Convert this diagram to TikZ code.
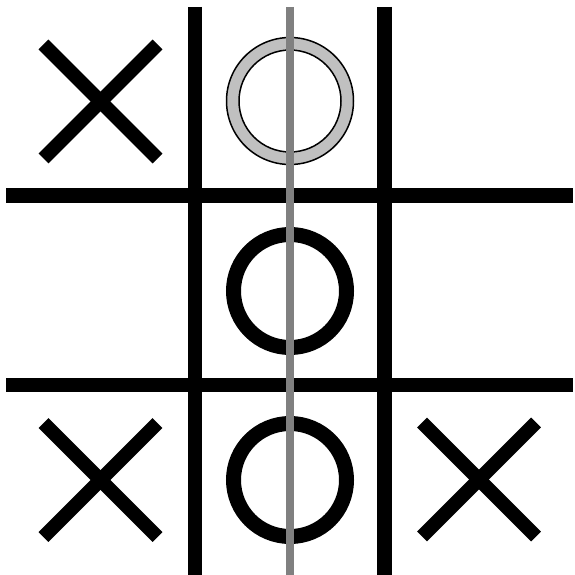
\documentclass[tikz,border=0pt]{standalone}
\begin{document}
\begin{tikzpicture}[x=1pt,y=-1pt,
  gridline/.style={line width=14.5pt,black},
  xmark/.style={line width=14pt,black},
  omark/.style={line width=15pt,black},
  centerline/.style={line width=8pt,color={rgb,255:red,128;green,128;blue,128}},
  ghost/.style={fill={rgb,255:red,192;green,192;blue,192},draw=black,line width=1.5pt,even odd rule}]
\useasboundingbox (0,0) rectangle (574,575);
% grid
\draw[gridline] (195,7) -- (195,575);
\draw[gridline] (384.5,7) -- (384.5,575);
\draw[gridline] (6,195.5) -- (573,195.5);
\draw[gridline] (6,385) -- (573,385);
% X marks
\foreach \cx/\cy in {100.5/101.5, 100.5/480, 479/479.5}{
  \draw[xmark] (\cx-57,\cy-57) -- (\cx+57,\cy+57);
  \draw[xmark] (\cx-57,\cy+57) -- (\cx+57,\cy-57);
}
% O marks
\draw[omark] (290,291) circle[radius=56.5];
\draw[omark] (290,480) circle[radius=56.5];
% ghost O
\path[ghost] (290,101) circle[radius=63.5] (290,101) circle[radius=51];
% center line
\draw[centerline] (290,7) -- (290,575);
\end{tikzpicture}
\end{document}
